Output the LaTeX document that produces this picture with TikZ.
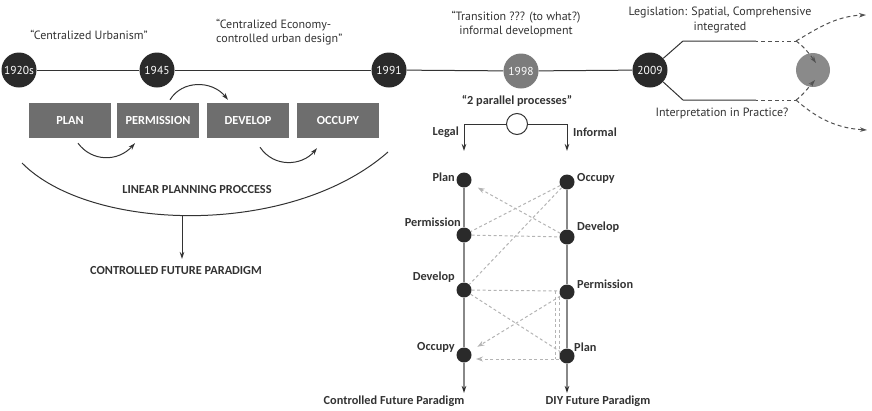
\documentclass[tikz,border=0pt]{standalone}
\usepackage{fontspec}
\setmainfont{PT Sans}
\newfontfamily\boldlbl{Carlito}
\usetikzlibrary{calc,arrows.meta}

\definecolor{ink}{HTML}{333333}
\definecolor{darkdot}{HTML}{2A2A2A}
\definecolor{boxgray}{HTML}{6E6E6E}
\definecolor{midgray}{HTML}{7C7C7C}
\definecolor{goalgray}{HTML}{8A8A8A}
\definecolor{linkgray}{HTML}{B4B4B4}
\definecolor{railgray}{HTML}{888888}

\begin{document}
\begin{tikzpicture}[x=1pt,y=-1pt,
  txt/.style={text=ink,font=\fontsize{12}{14.5}\selectfont,align=center,inner sep=0},
  btxt/.style={text=ink,font=\boldlbl\bfseries\fontsize{12.3}{13}\selectfont,inner sep=0},
  year/.style={circle,fill=darkdot,minimum size=35pt,inner sep=0,text=white,font=\fontsize{11.5}{11.5}\selectfont},
  stage/.style={fill=boxgray,minimum width=82pt,minimum height=35pt,inner sep=0,text=white,font=\boldlbl\bfseries\fontsize{12.3}{12}\selectfont},
  tline/.style={draw=ink,line width=1pt},
  rail/.style={draw=railgray,line width=1.3pt},
  arr/.style={-{Stealth[length=7pt,width=4.5pt]}},
  darr/.style={-{Stealth[length=7pt,width=4.5pt,color=darkdot]}},
  larr/.style={-{Stealth[length=7pt,width=5pt]}},
  pdot/.style={circle,fill=darkdot,minimum size=15pt,inner sep=0},
  link/.style={draw=linkgray,dash pattern=on 3pt off 2.5pt,line width=1pt},
  fork/.style={draw=ink!85,dash pattern=on 4pt off 3pt,line width=1pt},
  dashdot/.style={draw=ink!85,dash pattern=on 2pt off 3pt on 4pt off 3pt on 4pt off 3pt on 4pt off 3pt,line width=1pt},
]
\useasboundingbox (0,0) rectangle (872,410);

% ---------- timeline ----------
\node[year] (y1) at (19,70) {1920s};
\node[year] (y2) at (157,70) {1945};
\node[year] (y3) at (389,70) {1991};
\node[year,fill=midgray] (y4) at (521,71) {1998};
\node[year] (y5) at (650,70) {2009};
\draw[tline] (y1) -- (y2);
\draw[tline] (y2) -- (y3);
\draw[tline] (y3) -- (y4);
\draw[tline] (y4) -- (y5);

\node[txt] (t1) at (89,35) {“Centralized Urbanism”};
\node[txt,align=left,anchor=west] (t2) at (216,32) {“Centralized Economy-\\controlled urban design”};
\node[txt] (t3) at (516,24) {“Transition ??? (to what?)\\informal development};
\node[txt] (t4) at (720,20) {Legislation: Spatial, Comprehensive\\integrated};
\node[txt] (t5) at (722,113) {Interpretation in Practice?};

% ---------- fork after 2009 ----------
\coordinate (ua) at (683,41);
\coordinate (ub) at (756,41);
\coordinate (uc) at (796,41);
\coordinate (la) at (683,100);
\coordinate (lb) at (756,100);
\coordinate (lc) at (796,100);
\node[circle,fill=goalgray,minimum size=34pt,inner sep=0] (goal) at (813,70) {};
\coordinate (gtop) at (816,63);
\coordinate (gbot) at (815,80);
\coordinate (outU) at (866,15);
\coordinate (outL) at (867,130);

\draw[tline] (y5) -- (ua) -- (ub);
\draw[tline] (y5) -- (la) -- (lb);
\draw[dashdot] (ub) -- (uc);
\draw[dashdot] (lb) -- (lc);
\draw[fork,arr] (uc) .. controls (802,45) and (809,53) .. (gtop);
\draw[fork,arr] (uc) .. controls (815,30) and (835,16) .. (outU);
\draw[fork,arr] (lc) .. controls (802,96) and (808,88) .. (gbot);
\draw[fork,arr] (lc) .. controls (812,114) and (832,128) .. (outL);

% ---------- linear planning process ----------
\node[stage] (plan) at (70,120.5) {PLAN};
\node[stage] (perm) at (158,120.5) {PERMISSION};
\node[stage] (dev) at (248,120.5) {DEVELOP};
\node[stage] (occ) at (338,120.5) {OCCUPY};

\draw[tline,arr] ($(plan.south)+(8,5)$) .. controls (92,162) and (118,162) .. ($(perm.south)+(-23,5)$);
\draw[tline,arr] ($(perm.north)+(12,-3)$) .. controls (182,80) and (212,80) .. ($(dev.north)+(-20,-3)$);
\draw[tline,arr] ($(dev.south)+(12,9)$) .. controls (274,168) and (302,166) .. ($(occ.south)+(-21,10)$);

\coordinate (arcL) at (22,163);
\coordinate (arcR) at (388,152);
\coordinate (arcB) at (182,215.5);
\coordinate (ctrlEnd) at (182,259);
\draw[tline] (arcL) .. controls (90,232) and (290,238) .. (arcR);
\draw[tline,arr] (arcB) -- (ctrlEnd);
\node[btxt] (lpp) at (197,190) {LINEAR PLANNING PROCCESS};
\node[btxt] (cfp) at (176,271) {CONTROLLED FUTURE PARADIGM};

% ---------- two parallel processes ----------
\node[btxt] (ptitle) at (517,101) {“2 parallel processes”};
\node[circle,draw=ink,line width=1pt,fill=white,minimum size=21pt,inner sep=0] (par) at (517,124) {};
\coordinate (legalEnd) at (464,151);
\coordinate (inforEnd) at (567,151);
\draw[tline,arr] (par) -| (legalEnd);
\draw[tline,arr] (par) -| (inforEnd);
\node[btxt,anchor=east] (legal) at (459,132) {Legal};
\node[btxt,anchor=west] (infor) at (573,132) {Informal};

\node[pdot] (L1) at (464,180) {};
\node[pdot] (L2) at (464,235) {};
\node[pdot] (L3) at (464,290) {};
\node[pdot] (L4) at (464,355) {};
\node[pdot] (R1) at (567,182) {};
\node[pdot] (R2) at (567,237) {};
\node[pdot] (R3) at (567,292) {};
\node[pdot] (R4) at (567,356) {};
\coordinate (Lend) at (464,393);
\coordinate (Rend) at (567,393);

\draw[rail] (L1) -- (L2);
\draw[rail] (L2) -- (L3);
\draw[rail] (L3) -- (L4);
\draw[rail,darr] (L4) -- (Lend);
\draw[rail] (R1) -- (R2);
\draw[rail] (R2) -- (R3);
\draw[rail] (R3) -- (R4);
\draw[rail,darr] (R4) -- (Rend);

\node[btxt,anchor=east] at (455,177) {Plan};
\node[btxt,anchor=east] at (461,222) {Permission};
\node[btxt,anchor=east] at (455,277) {Develop};
\node[btxt,anchor=east] at (455,347) {Occupy};
\node[btxt,anchor=west] at (577,178) {Occupy};
\node[btxt,anchor=west] at (577,227) {Develop};
\node[btxt,anchor=west] at (577,284) {Permission};
\node[btxt,anchor=west] at (574,347) {Plan};

\node[btxt] (cfp2) at (394,401) {Controlled Future Paradigm};
\node[btxt] (diy) at (598,401) {DIY Future Paradigm};

% crossing links between the two processes
\coordinate (jTop) at (555,291);
\coordinate (jTop2) at (559,291);
\coordinate (jBot) at (555,359);
\coordinate (jBot2) at (559,359);
\coordinate (occIn) at (476,359);
\draw[link,larr,shorten >=8pt] (R2) -- (L1);
\draw[link] (R1) -- (L2);
\draw[link] (L2) -- (R2);
\draw[link] (R1) -- (L3);
\draw[link] (L3) -- (jTop2);
\draw[link] (L3) -- (R4);
\draw[link,larr,shorten >=8pt] (R3) -- (L4);
\draw[link] (jTop) -- (jBot);
\draw[link] (jTop2) -- (jBot2);
\draw[link,larr] (jBot2) -- (occIn);
\end{tikzpicture}
\end{document}
